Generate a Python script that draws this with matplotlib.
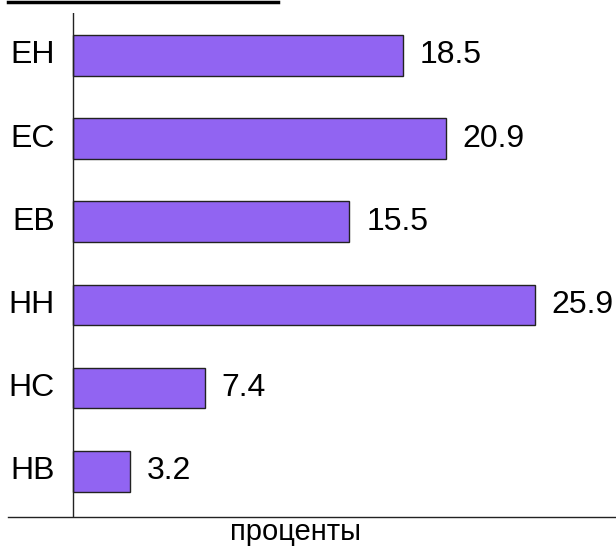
import matplotlib
matplotlib.use("Agg")
import matplotlib.pyplot as plt
from matplotlib.lines import Line2D

plt.rcParams['font.family'] = ['Liberation Sans', 'DejaVu Sans']

categories = ['EH', 'EC', 'EB', 'HH', 'HC', 'HB']
values = [18.5, 20.9, 15.5, 25.9, 7.4, 3.2]
xlabel = 'проценты'

fig = plt.figure(figsize=(6.16, 5.47), dpi=100)
# axes spans x 8..616 px, y 13..517 px
ax = fig.add_axes([8/616, (547-517)/547, 608/616, 504/547])

ypos = list(range(len(categories)))[::-1]
ax.barh(ypos, values, height=0.49, color='#9164F2', edgecolor='#222222', linewidth=1.0)

for y, v, c in zip(ypos, values, categories):
    ax.annotate(f'{v}', xy=(v, y), xytext=(12, 0), textcoords='offset points',
                ha='left', va='center', fontsize=23)
    ax.annotate(c, xy=(0, y), xytext=(-13, 0), textcoords='offset points',
                ha='right', va='center', fontsize=23)

ax.set_xlim(-3.64, 30.44)
ax.set_ylim(-0.55, 5.51)
ax.axvline(0, color='#222222', linewidth=1.0)

for s in ['top', 'right', 'left']:
    ax.spines[s].set_visible(False)
ax.spines['bottom'].set_color('#222222')
ax.spines['bottom'].set_linewidth(1.0)
ax.set_xticks([])
ax.set_yticks([])

fig.text(296/616, 1 - 532/547, xlabel, ha='center', va='center', fontsize=21)

# underline of the cut-off title at the top edge
fig.add_artist(Line2D([8/616, 278/616], [1 - 1.5/547, 1 - 1.5/547],
                      transform=fig.transFigure, color='black', linewidth=2.5))

fig.savefig('out.png', dpi=100)
